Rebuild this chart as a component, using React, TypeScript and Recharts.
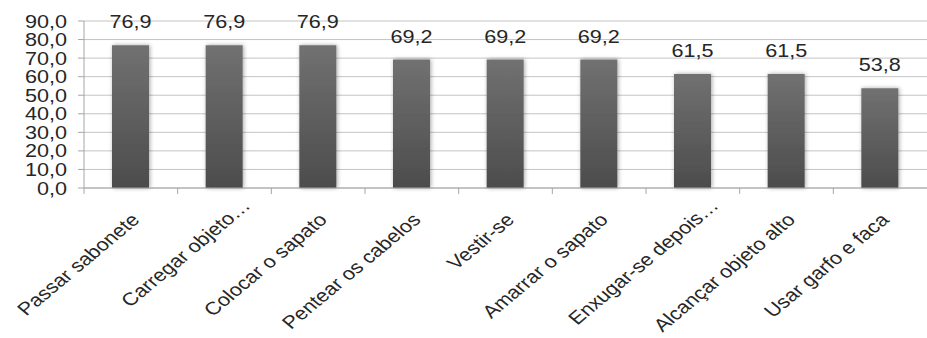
import React from 'react';
import { BarChart, Bar, XAxis, YAxis, CartesianGrid, LabelList } from 'recharts';

const categories = [
    'Passar sabonete',
    'Carregar objeto…',
    'Colocar o sapato',
    'Pentear os cabelos',
    'Vestir-se',
    'Amarrar o sapato',
    'Enxugar-se depois…',
    'Alcançar objeto alto',
    'Usar garfo e faca',
];
const percentages = [76.9, 76.9, 76.9, 69.2, 69.2, 69.2, 61.5, 61.5, 53.8];
const yTicks = [0, 10, 20, 30, 40, 50, 60, 70, 80, 90];

const data = categories.map((name, i) => ({ name, value: percentages[i] }));

const W = 927;
const H = 338;
const AXIS_W = 84;
const BAND = (W - AXIS_W) / categories.length;
const FONT = '"Liberation Sans", Arial, sans-serif';
const TEXT = '#262626';
const STRETCH = 'scale(1.2,1)'; // source picture is stretched horizontally

const fmt = (v: number) => v.toFixed(1).replace('.', ',');

const YTick = (props: any) => {
    const { x, y, payload } = props;
    return (
        <text
            transform={`translate(${x - 9},${y + 6.5}) ${STRETCH}`}
            textAnchor="end"
            fontSize={18}
            fontFamily={FONT}
            fill={TEXT}
        >
            {fmt(payload.value)}
        </text>
    );
};

const XTick = (props: any) => {
    const { x, y, payload } = props;
    const axisY = y - 8; // recharts adds tickSize + margin
    const left = x - BAND / 2;
    // truncated labels sit further along their baseline, as in Excel
    const shift = String(payload.value).endsWith('…') ? 20 : 0;
    return (
        <g>
            <line x1={left} x2={left} y1={axisY} y2={axisY + 6} stroke="#a6a6a6" />
            <text
                transform={`translate(${x + 10},${axisY + 33}) ${STRETCH} rotate(-45)`}
                x={shift}
                textAnchor="end"
                fontSize={18}
                fontFamily={FONT}
                fill={TEXT}
            >
                {payload.value}
            </text>
        </g>
    );
};

const ValueLabel = (props: any) => {
    const { x, y, width, value } = props;
    return (
        <text
            transform={`translate(${x + width / 2},${y - 17}) ${STRETCH}`}
            textAnchor="middle"
            fontSize={18}
            fontFamily={FONT}
            fill={TEXT}
        >
            {fmt(value)}
        </text>
    );
};

export default function App() {
    return (
        <div style={{ position: 'absolute', left: 0, top: 0, background: '#fff' }}>
            <BarChart
                width={W}
                height={H}
                data={data}
                margin={{ top: 21, right: 0, left: 0, bottom: 0 }}
            >
                <defs>
                    <linearGradient id="barFill" x1="0" y1="0" x2="0" y2="1">
                        <stop offset="0%" stopColor="#717171" />
                        <stop offset="100%" stopColor="#4c4c4c" />
                    </linearGradient>
                    <filter id="barShadow" x="-30%" y="-10%" width="160%" height="120%">
                        <feDropShadow dx="1" dy="0" stdDeviation="2.2" floodColor="#000" floodOpacity="0.35" />
                    </filter>
                </defs>
                <CartesianGrid vertical={false} stroke="#c4c4c4" />
                <XAxis
                    dataKey="name"
                    interval={0}
                    height={150}
                    tickLine={false}
                    axisLine={{ stroke: '#a6a6a6' }}
                    tick={<XTick />}
                />
                <YAxis
                    width={AXIS_W}
                    domain={[0, 90]}
                    ticks={yTicks}
                    interval={0}
                    tickSize={6}
                    tickLine={{ stroke: '#a6a6a6' }}
                    axisLine={{ stroke: '#a6a6a6' }}
                    tick={<YTick />}
                />
                <Bar
                    dataKey="value"
                    fill="url(#barFill)"
                    barSize={37}
                    filter="url(#barShadow)"
                    isAnimationActive={false}
                >
                    <LabelList dataKey="value" content={<ValueLabel />} />
                </Bar>
            </BarChart>
        </div>
    );
}
